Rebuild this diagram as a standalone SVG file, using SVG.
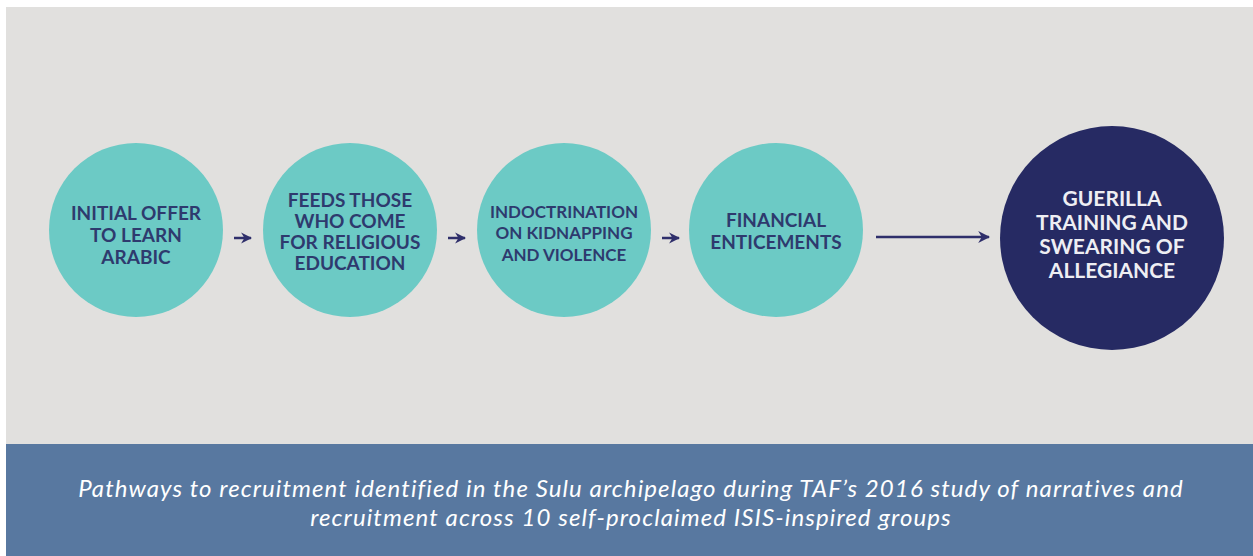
<svg xmlns="http://www.w3.org/2000/svg" width="1253" height="556" viewBox="0 0 1253 556">
<defs>
<style>
.t{font-family:Lato,"Open Sans","Liberation Sans",sans-serif;font-weight:700;text-anchor:middle;fill:#2e3a6e}
.w{fill:#eeeef3}
.cap{font-family:Lato,"Open Sans","Liberation Sans",sans-serif;font-style:italic;font-size:24px;letter-spacing:1.1px;fill:#ffffff;text-anchor:middle}
.c{fill:#6ccac5}
.a{stroke:#2f2f6b;stroke-width:2.5;fill:none}
</style>
<marker id="ah" viewBox="0 0 10 10" refX="9" refY="5" markerWidth="11" markerHeight="13" markerUnits="userSpaceOnUse" orient="auto">
<path d="M0,0 L10,5 L0,10 L3,5 Z" fill="#2f2f6b"/>
</marker>
<marker id="ah2" viewBox="0 0 10 10" refX="9" refY="5" markerWidth="12" markerHeight="14" markerUnits="userSpaceOnUse" orient="auto">
<path d="M0,0 L10,5 L0,10 L3,5 Z" fill="#2f2f6b"/>
</marker>
</defs>
<rect x="0" y="0" width="1253" height="556" fill="#ffffff"/>
<rect x="6" y="7" width="1247" height="437" fill="#e1e0de"/>
<rect x="6" y="444" width="1247" height="112" fill="#5878a0"/>
<g id="n1">
<circle class="c" cx="136" cy="230" r="87"/>
<text class="t" font-size="19" x="136" y="220">INITIAL OFFER</text>
<text class="t" font-size="19" x="136" y="242">TO LEARN</text>
<text class="t" font-size="19" x="136" y="264">ARABIC</text>
</g>
<g id="n2">
<circle class="c" cx="350" cy="230" r="87"/>
<text class="t" font-size="19" x="350" y="207">FEEDS THOSE</text>
<text class="t" font-size="19" x="350" y="228">WHO COME</text>
<text class="t" font-size="19" x="350" y="249">FOR RELIGIOUS</text>
<text class="t" font-size="19" x="350" y="270">EDUCATION</text>
</g>
<g id="n3">
<circle class="c" cx="564" cy="230" r="87"/>
<text class="t" font-size="17" x="564" y="218">INDOCTRINATION</text>
<text class="t" font-size="17" x="564" y="239">ON KIDNAPPING</text>
<text class="t" font-size="17" x="564" y="261">AND VIOLENCE</text>
</g>
<g id="n4">
<circle class="c" cx="776" cy="230" r="87"/>
<text class="t" font-size="19" x="776" y="227">FINANCIAL</text>
<text class="t" font-size="19" x="776" y="249">ENTICEMENTS</text>
</g>
<g id="n5">
<circle cx="1112" cy="238" r="112" fill="#262a63"/>
<text class="t w" font-size="21" x="1112" y="206">GUERILLA</text>
<text class="t w" font-size="21" x="1112" y="230">TRAINING AND</text>
<text class="t w" font-size="21" x="1112" y="254">SWEARING OF</text>
<text class="t w" font-size="21" x="1112" y="278">ALLEGIANCE</text>
</g>
<g id="connectors">
<line class="a" x1="234" y1="238" x2="251" y2="238" marker-end="url(#ah)"/>
<line class="a" x1="448" y1="238" x2="465" y2="238" marker-end="url(#ah)"/>
<line class="a" x1="662" y1="238" x2="679" y2="238" marker-end="url(#ah)"/>
<line class="a" x1="876" y1="237" x2="989" y2="237" stroke-width="2" marker-end="url(#ah2)"/>
</g>
<text class="cap" x="631" y="497">Pathways to recruitment identified in the Sulu archipelago during TAF’s 2016 study of narratives and</text>
<text class="cap" x="631" y="526">recruitment across 10 self-proclaimed ISIS-inspired groups</text>
</svg>
